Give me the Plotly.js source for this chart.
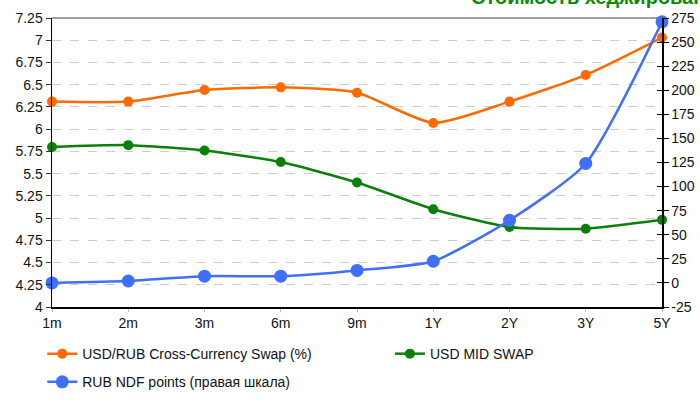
<!DOCTYPE html>
<html>
<head>
<meta charset="utf-8">
<script src="https://cdn.plot.ly/plotly-3.0.1.min.js"></script>
<style>html,body{margin:0;padding:0;background:#fff;}#chart{width:700px;height:420px;}</style>
</head>
<body>
<div id="chart"></div>
<script>
const categories = ["1m", "2m", "3m", "6m", "9m", "1Y", "2Y", "3Y", "5Y"];
const ccsSwap = [6.31, 6.31, 6.44, 6.47, 6.41, 6.07, 6.31, 6.61, 7.03];
const usdMidSwap = [5.80, 5.82, 5.76, 5.63, 5.40, 5.10, 4.90, 4.88, 4.98];
const ndfPoints = [0, 2, 7, 7, 13, 22.5, 65, 124, 271];
const leftTicks = [4, 4.25, 4.5, 4.75, 5, 5.25, 5.5, 5.75, 6, 6.25, 6.5, 6.75, 7, 7.25];
const rightTicks = [-25, 0, 25, 50, 75, 100, 125, 150, 175, 200, 225, 250, 275];
const titleText = "Стоимость хеджирования";
const seriesNames = ["USD/RUB Cross-Currency Swap (%)", "USD MID SWAP", "RUB NDF points (правая шкала)"];

const FONT = "Liberation Sans, Arial, sans-serif";
const traces = [
  {x: categories, y: ccsSwap, name: seriesNames[0], type: "scatter", mode: "lines+markers",
   line: {color: "#ff6a00", width: 2.5, shape: "spline", smoothing: 0.6},
   marker: {color: "#ff6a00", size: 10}, cliponaxis: false, yaxis: "y", legend: "legend"},
  {x: categories, y: usdMidSwap, name: seriesNames[1], type: "scatter", mode: "lines+markers",
   line: {color: "#0a800a", width: 2.5, shape: "spline", smoothing: 0.6},
   marker: {color: "#0a800a", size: 10}, cliponaxis: false, yaxis: "y", legend: "legend2"},
  {x: categories, y: ndfPoints, name: seriesNames[2], type: "scatter", mode: "lines+markers",
   line: {color: "#3f6fff", width: 2.5, shape: "spline", smoothing: 0.6},
   marker: {color: "#3f6fff", size: 13}, cliponaxis: false, yaxis: "y2", legend: "legend3"},
  {x: categories, y: [null], yaxis: "y3", showlegend: false, hoverinfo: "skip", type: "scatter", mode: "lines"}
];

const legendBase = {orientation: "h", xanchor: "left", yanchor: "middle", yref: "container",
  font: {family: FONT, size: 14, color: "#111"}, bgcolor: "rgba(0,0,0,0)", borderwidth: 0};

const layout = {
  width: 700, height: 420,
  margin: {l: 52, r: 38, t: 18, b: 113, pad: 0},
  paper_bgcolor: "#ffffff", plot_bgcolor: "#ffffff",
  font: {family: FONT, size: 14, color: "#111"},
  showlegend: true,
  legend: Object.assign({}, legendBase, {x: -0.016, y: 0.157}),
  legend2: Object.assign({}, legendBase, {x: 0.554, y: 0.157}),
  legend3: Object.assign({}, legendBase, {x: -0.016, y: 0.09}),
  xaxis: {type: "category", range: [0, 8], showgrid: false, zeroline: false,
          showline: true, linecolor: "#000", linewidth: 1.5,
          ticks: "outside", ticklen: 3, tickcolor: "#bbb", tickwidth: 1,
          tickfont: {family: FONT, size: 14, color: "#111"}, fixedrange: true},
  yaxis: {range: [4, 7.25], tickvals: leftTicks, ticktext: leftTicks.map(String),
          showgrid: true, gridcolor: "#cccccc", griddash: "dash", gridwidth: 1,
          zeroline: false, showline: true, linecolor: "#000", linewidth: 1.5,
          ticks: "outside", ticklen: 5, tickcolor: "#333",
          tickfont: {family: FONT, size: 14, color: "#111"}},
  yaxis2: {range: [-25, 275], tickvals: rightTicks, ticktext: rightTicks.map(String),
           overlaying: "y", side: "right", showgrid: false, zeroline: false,
           showline: true, linecolor: "#000", linewidth: 1.5,
           ticks: "outside", ticklen: 5, tickcolor: "#000",
           tickfont: {family: FONT, size: 14, color: "#111"}},
  yaxis3: {range: [-25, 275], tickvals: rightTicks, showticklabels: false,
           overlaying: "y", side: "right", showgrid: false, zeroline: false, showline: false,
           ticks: "inside", ticklen: 5, tickcolor: "#000"},
  shapes: [{type: "line", xref: "paper", yref: "paper", x0: 0, x1: 1, y0: 1, y1: 1,
            line: {color: "#a0a0a0", width: 2}, layer: "below"}],
  annotations: [{text: "<b>" + titleText + "</b>", xref: "paper", yref: "paper",
                 x: 0.684, y: 1.074, xanchor: "left", yanchor: "middle", showarrow: false,
                 font: {family: FONT, size: 20, color: "#0a8a0a"}}]
};
Plotly.newPlot("chart", traces, layout, {displayModeBar: false, staticPlot: true});
</script>
</body>
</html>
